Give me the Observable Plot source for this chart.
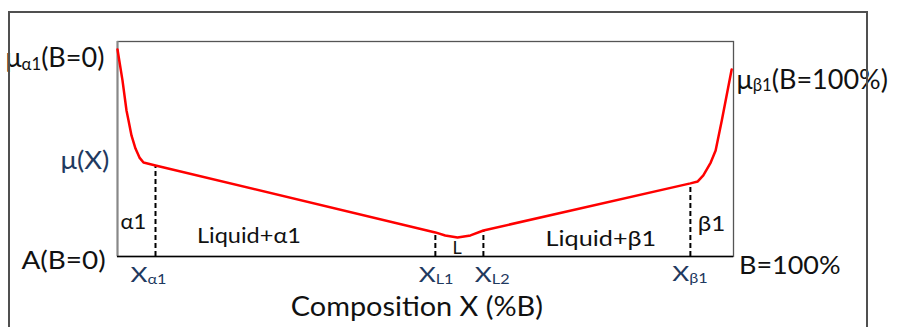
<!DOCTYPE html>
<html><head><meta charset="utf-8">
<script src="https://cdn.jsdelivr.net/npm/d3@7"></script>
<script src="https://cdn.jsdelivr.net/npm/@observablehq/plot@0.6"></script>
<style>
html,body{margin:0;padding:0;background:#fff;}
#wrap{position:relative;width:898px;height:327px;overflow:hidden;background:#fff;}
#outer{position:absolute;left:8px;top:11px;width:860px;height:340px;border:2px solid #505050;box-sizing:border-box;pointer-events:none;z-index:2;}
#chart{position:absolute;left:0;top:0;z-index:1;}
</style></head><body>
<div id="wrap"><div id="outer"></div><div id="chart"></div></div>
<script>
// Composition X (%B) and chemical potential (arbitrary units)
const compX = [0, 0.81, 1.46, 1.79, 2.27, 2.92, 3.57, 4.22, 6.17, 51.6, 53.2, 55.2, 57.3, 59.4, 93.0, 94.2, 95.1, 96.3, 97.1, 98.1, 99.7];
const potY  = [96.3, 81.9, 67.9, 63.3, 56.3, 50.2, 46.0, 43.7, 42.3, 11.2, 9.8, 8.8, 9.8, 12.1, 34.0, 34.9, 37.7, 43.7, 49.3, 63.3, 87.0];

// Phase boundary compositions and the potential where each dashed line meets the curve
const boundNames = ["X_{α1}", "X_{L1}", "X_{L2}", "X_{β1}"];
const boundX   = [6.17, 51.6, 59.4, 93.0];
const boundTop = [42.3, 11.2, 12.1, 34.0];

// Annotation texts (anchored in data units)
const potLabels    = ["μ_{α1}(B=0)", "μ_{β1}(B=100%)"];
const potLabelX    = [-18.2, 100.5];
const potLabelY    = [92.1, 82.1];
const endLabels    = ["A(B=0)", "B=100%"];
const endLabelX    = [-15.6, 100.9];
const endLabelY    = [-2.1, -4.3];
const phaseLabels  = ["α1", "Liquid+α1", "Liquid+β1", "β1"];
const phaseLabelX  = [0.49, 12.9, 69.5, 94.2];
const phaseLabelY  = [16.0, 9.4, 7.8, 15.0];
const liquidLabel  = ["L"];
const boundLabelX  = [2.1, 48.9, 58.0, 90.05];
const boundLabelY  = [-8.8, -8.5, -8.5, -8.0];
const muLabel      = "μ(X)";
const axisTitle    = "Composition X (%B)";

const curve = compX.map((x, i) => ({x, y: potY[i]}));
const bounds = boundX.map((x, i) => ({x, top: boundTop[i], name: boundNames[i], lx: boundLabelX[i], ly: boundLabelY[i]}));
const zip = (t, xs, ys) => t.map((text, i) => ({text, x: xs[i], y: ys[i]}));

const navy = "#1f3a60";
const ink = "#111";
// horizontal widening of each text (the source type is wider than Lato)
const stretch = new Map();
stretch.set("A(B=0)", 1.14);
stretch.set("B=100%", 1.1);
stretch.set("Liquid+α1", 1.12);
stretch.set("Liquid+β1", 1.2);
stretch.set("β1", 1.1);
stretch.set(muLabel, 1.1);
boundNames.forEach(t => stretch.set(t, 1.22));
stretch.set(axisTitle, 1.07);

const plot = Plot.plot({
  width: 898, height: 327,
  marginLeft: 117, marginRight: 165, marginTop: 41, marginBottom: 71,
  x: {domain: [0, 100], axis: null},
  y: {domain: [0, 100], axis: null},
  style: {fontFamily: "Lato, 'Open Sans', sans-serif", background: "transparent", overflow: "visible"},
  marks: [
    Plot.frame({stroke: "#555", strokeWidth: 1.3}),
    Plot.ruleX([0], {stroke: "#888", strokeWidth: 2}),
    Plot.ruleY([0], {stroke: "#000", strokeWidth: 1.6}),
    Plot.ruleX(bounds, {x: "x", y1: 0, y2: "top", stroke: "#000", strokeWidth: 2, strokeDasharray: "5,3"}),
    Plot.line(curve, {x: "x", y: "y", stroke: "#ff0000", strokeWidth: 2.5, curve: "linear"}),
    Plot.text(zip(potLabels, potLabelX, potLabelY), {x: "x", y: "y", text: "text", textAnchor: "start", fontSize: 27, fill: ink}),
    Plot.text(zip(endLabels, endLabelX, endLabelY), {x: "x", y: "y", text: "text", textAnchor: "start", fontSize: 24.5, fill: ink}),
    Plot.text(zip(phaseLabels, phaseLabelX, phaseLabelY), {x: "x", y: "y", text: "text", textAnchor: "start", fontSize: d => d.text.length > 2 ? 21 : 22, fill: ink}),
    Plot.text(zip(liquidLabel, [54.4], [4.0]), {x: "x", y: "y", text: "text", textAnchor: "start", fontSize: 18, fill: ink}),
    Plot.text([muLabel], {x: -9.25, y: 44.2, text: d => d, textAnchor: "start", fontSize: 25, fill: navy}),
    Plot.text(bounds, {x: "lx", y: "ly", text: "name", textAnchor: "start", fontSize: 21.5, fill: navy}),
    Plot.text([axisTitle], {x: 48.6, y: -23.7, text: d => d, textAnchor: "middle", fontSize: 27, fill: ink})
  ]
});

d3.select(plot).selectAll("text").each(function() {
  const s = this.textContent;
  // widen horizontally about the anchor point
  const k = stretch.get(s);
  if (k) {
    let tr = this.getAttribute("transform");
    if (!tr) {
      const x = +this.getAttribute("x") || 0, y = +this.getAttribute("y") || 0;
      this.removeAttribute("x"); this.removeAttribute("y");
      tr = `translate(${x},${y})`;
    }
    this.setAttribute("transform", `${tr} scale(${k},1)`);
  }
  // render "_{...}" as subscripts
  if (!s.includes("_{")) return;
  const el = d3.select(this);
  el.text(null);
  let afterSub = false;
  s.split(/(_\{[^}]*\})/).forEach(p => {
    if (!p) return;
    if (p.startsWith("_{")) {
      el.append("tspan").attr("font-size", "62%").attr("dy", "0.15em").text(p.slice(2, -1));
      afterSub = true;
    } else {
      const t = el.append("tspan").text(p);
      if (afterSub) { t.attr("dy", "-0.093em"); afterSub = false; }
    }
  });
});

document.getElementById("chart").append(plot);
</script>
</body></html>
